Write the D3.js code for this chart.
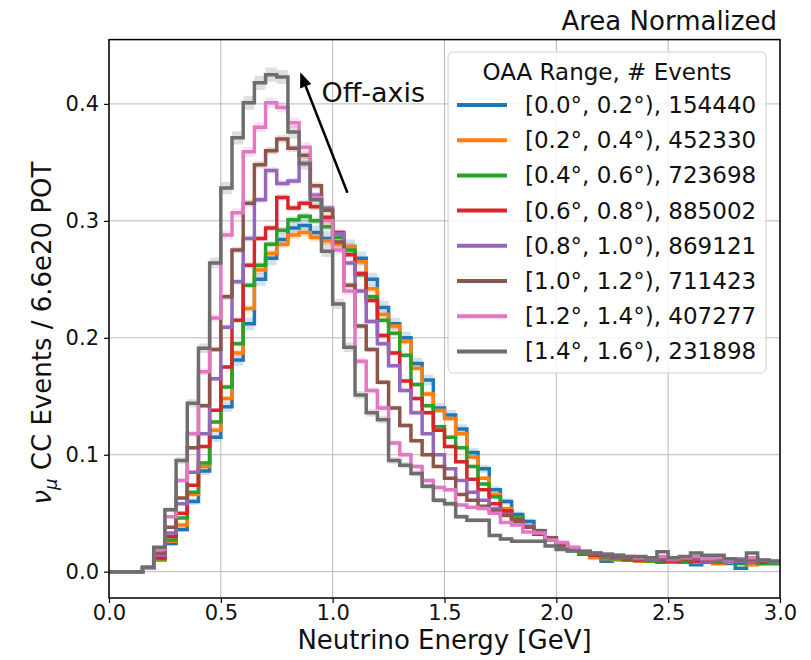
<!DOCTYPE html>
<html>
<head>
<meta charset="utf-8">
<title>Area Normalized numu CC spectra by off-axis angle</title>
<script src="https://cdn.jsdelivr.net/npm/d3@7"></script>
<style>
  body { margin: 0; background: #fff; }
  svg { font-family: "DejaVu Sans", sans-serif; }
  .tick text { font-size: 21px; fill: #111; }
  .grid line { stroke: #b8b8b8; stroke-width: 1; }
</style>
</head>
<body>
<div id="chart"></div>
<script>
// bin layout: 0.05 GeV bins from 0 to 3 GeV
var binWidth = 0.05;
var xTicks = [0.0, 0.5, 1.0, 1.5, 2.0, 2.5, 3.0];
var yTicks = [0.0, 0.1, 0.2, 0.3, 0.4];

var rangeLabels = ['[0.0°, 0.2°)', '[0.2°, 0.4°)', '[0.4°, 0.6°)', '[0.6°, 0.8°)',
                   '[0.8°, 1.0°)', '[1.0°, 1.2°)', '[1.2°, 1.4°)', '[1.4°, 1.6°)'];
var eventCounts = [154440, 452330, 723698, 885002, 869121, 711423, 407277, 231898];
var colors = ['#1f77b4', '#ff7f0e', '#2ca02c', '#d62728', '#9467bd', '#8c564b', '#e377c2', '#6e6e6e'];

var oaa00 = [0, 0, 0, 0.003, 0.010, 0.024, 0.036, 0.060, 0.086, 0.115,
  0.141, 0.181, 0.212, 0.250, 0.268, 0.284, 0.294, 0.296, 0.290, 0.285,
  0.280, 0.278, 0.268, 0.250, 0.226, 0.212, 0.200, 0.178, 0.164, 0.140,
  0.134, 0.122, 0.102, 0.088, 0.070, 0.060, 0.049, 0.043, 0.035, 0.029,
  0.020, 0.018, 0.015, 0.013, 0.009, 0.011, 0.010, 0.009, 0.009, 0.008,
  0.008, 0.008, 0.006, 0.008, 0.007, 0.007, 0.003, 0.007, 0.007, 0.007];
var oaa02 = [0, 0, 0, 0.003, 0.010, 0.026, 0.040, 0.066, 0.090, 0.121,
  0.148, 0.187, 0.225, 0.258, 0.272, 0.280, 0.288, 0.290, 0.286, 0.283,
  0.280, 0.278, 0.265, 0.242, 0.220, 0.210, 0.197, 0.174, 0.152, 0.138,
  0.131, 0.118, 0.098, 0.080, 0.066, 0.054, 0.045, 0.038, 0.032, 0.027,
  0.022, 0.019, 0.016, 0.012, 0.011, 0.010, 0.011, 0.009, 0.010, 0.009,
  0.008, 0.009, 0.008, 0.009, 0.007, 0.008, 0.007, 0.006, 0.007, 0.008];
var oaa04 = [0, 0, 0, 0.003, 0.011, 0.027, 0.046, 0.068, 0.093, 0.128,
  0.158, 0.195, 0.245, 0.262, 0.280, 0.292, 0.301, 0.304, 0.300, 0.295,
  0.286, 0.275, 0.254, 0.235, 0.215, 0.204, 0.185, 0.160, 0.142, 0.124,
  0.115, 0.106, 0.090, 0.075, 0.064, 0.052, 0.046, 0.038, 0.033, 0.027,
  0.022, 0.018, 0.016, 0.014, 0.012, 0.011, 0.010, 0.010, 0.009, 0.009,
  0.009, 0.008, 0.009, 0.008, 0.008, 0.009, 0.007, 0.008, 0.007, 0.007];
var oaa06 = [0, 0, 0, 0.003, 0.012, 0.030, 0.050, 0.074, 0.107, 0.138,
  0.175, 0.215, 0.262, 0.285, 0.294, 0.320, 0.311, 0.315, 0.312, 0.303,
  0.290, 0.271, 0.255, 0.232, 0.202, 0.187, 0.163, 0.148, 0.136, 0.121,
  0.107, 0.094, 0.079, 0.070, 0.058, 0.052, 0.044, 0.038, 0.032, 0.028,
  0.023, 0.019, 0.017, 0.014, 0.013, 0.012, 0.011, 0.010, 0.010, 0.010,
  0.009, 0.010, 0.009, 0.009, 0.010, 0.009, 0.008, 0.009, 0.008, 0.008];
var oaa08 = [0, 0, 0, 0.003, 0.014, 0.033, 0.058, 0.085, 0.118, 0.165,
  0.209, 0.248, 0.285, 0.318, 0.343, 0.332, 0.334, 0.349, 0.322, 0.311,
  0.289, 0.264, 0.240, 0.214, 0.195, 0.176, 0.155, 0.136, 0.118, 0.100,
  0.088, 0.078, 0.068, 0.061, 0.054, 0.049, 0.043, 0.039, 0.034, 0.029,
  0.023, 0.019, 0.017, 0.015, 0.013, 0.012, 0.012, 0.011, 0.010, 0.011,
  0.010, 0.010, 0.011, 0.009, 0.010, 0.009, 0.009, 0.008, 0.009, 0.008];
var oaa10 = [0, 0, 0, 0.003, 0.016, 0.038, 0.063, 0.106, 0.142, 0.190,
  0.235, 0.275, 0.315, 0.348, 0.360, 0.370, 0.362, 0.356, 0.330, 0.309,
  0.282, 0.245, 0.210, 0.190, 0.162, 0.140, 0.125, 0.112, 0.100, 0.090,
  0.080, 0.066, 0.061, 0.056, 0.052, 0.048, 0.043, 0.038, 0.034, 0.029,
  0.023, 0.020, 0.018, 0.015, 0.014, 0.013, 0.012, 0.012, 0.011, 0.012,
  0.011, 0.010, 0.012, 0.010, 0.011, 0.010, 0.010, 0.011, 0.009, 0.009];
var oaa12 = [0, 0, 0, 0.003, 0.019, 0.047, 0.078, 0.118, 0.171, 0.217,
  0.288, 0.307, 0.359, 0.380, 0.401, 0.397, 0.384, 0.363, 0.320, 0.300,
  0.275, 0.240, 0.180, 0.155, 0.140, 0.110, 0.100, 0.090, 0.078, 0.072,
  0.070, 0.057, 0.055, 0.054, 0.050, 0.042, 0.040, 0.034, 0.033, 0.027,
  0.025, 0.021, 0.018, 0.016, 0.015, 0.014, 0.013, 0.012, 0.012, 0.013,
  0.011, 0.012, 0.013, 0.011, 0.012, 0.010, 0.011, 0.012, 0.010, 0.009];
var oaa14 = [0, 0, 0, 0.004, 0.021, 0.053, 0.095, 0.144, 0.191, 0.264,
  0.328, 0.371, 0.401, 0.418, 0.425, 0.423, 0.376, 0.349, 0.318, 0.274,
  0.229, 0.192, 0.151, 0.136, 0.130, 0.095, 0.091, 0.084, 0.073, 0.061,
  0.058, 0.047, 0.044, 0.044, 0.031, 0.028, 0.026, 0.026, 0.026, 0.022,
  0.019, 0.018, 0.017, 0.016, 0.015, 0.014, 0.013, 0.013, 0.012, 0.017,
  0.012, 0.013, 0.016, 0.014, 0.014, 0.011, 0.010, 0.016, 0.010, 0.009];

var seriesValues = [oaa00, oaa02, oaa04, oaa06, oaa08, oaa10, oaa12, oaa14];

var W = 811, H = 660;
var margin = {top: 39.6, right: 31, bottom: 62, left: 109};
var width = W - margin.left - margin.right;
var height = H - margin.top - margin.bottom;

var svg = d3.select('#chart').append('svg')
  .attr('width', W).attr('height', H);

var g = svg.append('g')
  .attr('transform', 'translate(' + margin.left + ',' + margin.top + ')');

var x = d3.scaleLinear().domain([0, 3]).range([0, width]);
var y = d3.scaleLinear().domain([-0.0225, 0.455]).range([height, 0]);

g.append('clipPath').attr('id', 'clip')
  .append('rect').attr('width', width).attr('height', height);

// grid
g.append('g').attr('class', 'grid')
  .selectAll('line.v').data(xTicks).enter().append('line')
  .attr('x1', function(d) { return x(d); }).attr('x2', function(d) { return x(d); })
  .attr('y1', 0).attr('y2', height);
g.append('g').attr('class', 'grid')
  .selectAll('line.h').data(yTicks).enter().append('line')
  .attr('x1', 0).attr('x2', width)
  .attr('y1', function(d) { return y(d); }).attr('y2', function(d) { return y(d); });

// step histograms with statistical bands
var plot = g.append('g').attr('clip-path', 'url(#clip)');

function stepPoints(vals) {
  var pts = vals.map(function(v, i) { return {e: i * binWidth, v: v}; });
  pts.push({e: vals.length * binWidth, v: vals[vals.length - 1]});
  return pts;
}

seriesValues.forEach(function(vals, s) {
  var n = eventCounts[s];
  var err = function(d) { return Math.sqrt(d.v / (binWidth * n)); };
  var band = d3.area().curve(d3.curveStepAfter)
    .x(function(d) { return x(d.e); })
    .y0(function(d) { return y(d.v - err(d)); })
    .y1(function(d) { return y(d.v + err(d)); });
  plot.append('path').datum(stepPoints(vals))
    .attr('d', band)
    .attr('fill', colors[s]).attr('fill-opacity', 0.22);
});

seriesValues.forEach(function(vals, s) {
  var line = d3.line().curve(d3.curveStepAfter)
    .x(function(d) { return x(d.e); })
    .y(function(d) { return y(d.v); });
  plot.append('path').datum(stepPoints(vals))
    .attr('d', line)
    .attr('fill', 'none')
    .attr('stroke', colors[s])
    .attr('stroke-width', 3.5);
});

// axes
var xAxis = g.append('g').attr('transform', 'translate(0,' + height + ')')
  .call(d3.axisBottom(x).tickValues(xTicks).tickFormat(d3.format('.1f'))
    .tickSize(5).tickPadding(2).tickSizeOuter(0));
var yAxis = g.append('g')
  .call(d3.axisLeft(y).tickValues(yTicks).tickFormat(d3.format('.1f'))
    .tickSize(5).tickPadding(5).tickSizeOuter(0));
[xAxis, yAxis].forEach(function(a) {
  a.select('.domain').remove();
  a.selectAll('.tick line').attr('stroke', '#000').attr('stroke-width', 1.2);
  a.selectAll('.tick text').style('font-family', '"DejaVu Sans", sans-serif');
});

// frame
g.append('rect').attr('width', width).attr('height', height)
  .attr('fill', 'none').attr('stroke', '#000').attr('stroke-width', 1.5);

// labels
svg.append('text')
  .attr('x', margin.left + width / 2).attr('y', 649)
  .attr('text-anchor', 'middle').style('font-size', '26px').attr('fill', '#111')
  .text('Neutrino Energy [GeV]');

var yl = svg.append('text')
  .attr('transform', 'translate(51,333) rotate(-90)')
  .attr('text-anchor', 'middle').style('font-size', '26px').attr('fill', '#111');
yl.append('tspan').style('font-style', 'italic').text('ν');
yl.append('tspan').attr('dy', 6).style('font-size', '18px').style('font-style', 'italic').text('μ');
yl.append('tspan').attr('dy', -6).text(' CC Events / 6.6e20 POT');

svg.append('text')
  .attr('x', 777).attr('y', 30)
  .attr('text-anchor', 'end').style('font-size', '26px').attr('fill', '#111')
  .text('Area Normalized');

// off-axis annotation
var tip = [x(0.855), y(0.427)], tail = [x(1.066), y(0.324)];
var dx = tip[0] - tail[0], dy = tip[1] - tail[1];
var len = Math.sqrt(dx * dx + dy * dy);
var ux = dx / len, uy = dy / len;
var headL = 15, headW = 6;
var base = [tip[0] - ux * headL, tip[1] - uy * headL];
g.append('line')
  .attr('x1', tail[0]).attr('y1', tail[1]).attr('x2', base[0]).attr('y2', base[1])
  .attr('stroke', '#000').attr('stroke-width', 2.5);
g.append('path')
  .attr('d', 'M' + tip[0] + ',' + tip[1] +
    'L' + (base[0] - uy * headW) + ',' + (base[1] + ux * headW) +
    'L' + (base[0] + uy * headW) + ',' + (base[1] - ux * headW) + 'Z')
  .attr('fill', '#000');
g.append('text')
  .attr('x', x(0.95)).attr('y', y(0.402))
  .style('font-size', '27px').attr('fill', '#111')
  .text('Off-axis');

// legend
var legend = svg.append('g').attr('transform', 'translate(448,52)');
legend.append('rect')
  .attr('width', 318).attr('height', 321).attr('rx', 5)
  .attr('fill', '#fff').attr('fill-opacity', 0.8)
  .attr('stroke', '#d0d0d0').attr('stroke-width', 1);
legend.append('text')
  .attr('x', 159).attr('y', 27.5).attr('text-anchor', 'middle')
  .style('font-size', '23px').attr('fill', '#111')
  .text('OAA Range, # Events');
var items = legend.selectAll('.item').data(rangeLabels).enter().append('g')
  .attr('class', 'item')
  .attr('transform', function(d, i) { return 'translate(0,' + (53 + i * 35.2) + ')'; });
items.append('line')
  .attr('x1', 9).attr('x2', 59)
  .attr('stroke', function(d, i) { return colors[i]; })
  .attr('stroke-width', 4);
items.append('text')
  .attr('x', 77).attr('y', 8)
  .style('font-size', '23px').attr('fill', '#111')
  .text(function(d, i) { return d + ', ' + eventCounts[i]; });
</script>
</body>
</html>
